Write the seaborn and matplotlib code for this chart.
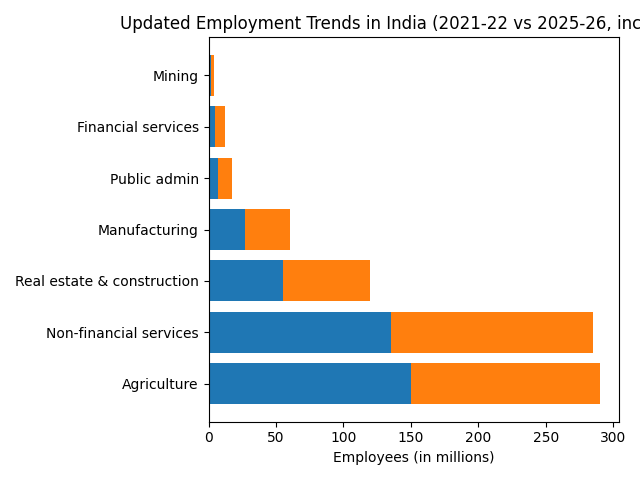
import pandas as pd
import seaborn as sns
import matplotlib.pyplot as plt

# Sectors, listed top to bottom as shown
sectors = ['Mining', 'Financial services', 'Public admin', 'Manufacturing',
           'Real estate & construction', 'Non-financial services', 'Agriculture']
# Employees in millions
jobs_2021_22 = [1.5, 5, 7, 27, 55, 135, 150]
incremental = [2.5, 7, 10, 33, 65, 150, 140]

df = pd.DataFrame({'sector': sectors, 'base': jobs_2021_22, 'extra': incremental})
df['total'] = df['base'] + df['extra']

fig, ax = plt.subplots(figsize=(6.4, 4.8), dpi=100)

# Stacked bars: draw the totals first, then the 2021-22 part over them
sns.barplot(data=df, x='total', y='sector', orient='h', color='#ff7f0e',
            saturation=1, width=0.8, ax=ax)
sns.barplot(data=df, x='base', y='sector', orient='h', color='#1f77b4',
            saturation=1, width=0.8, ax=ax)

n = len(sectors)
pad = 0.4 + 0.05 * (n - 1 + 0.8)
ax.set_ylim(n - 1 + pad, -pad)
ax.set_xlim(0, df['total'].max() * 1.05)

ax.set_xlabel('Employees (in millions)')
ax.set_ylabel('')
ax.set_title('Updated Employment Trends in India (2021-22 vs 2025-26, increment)')

fig.tight_layout()
fig.savefig('out.png')
